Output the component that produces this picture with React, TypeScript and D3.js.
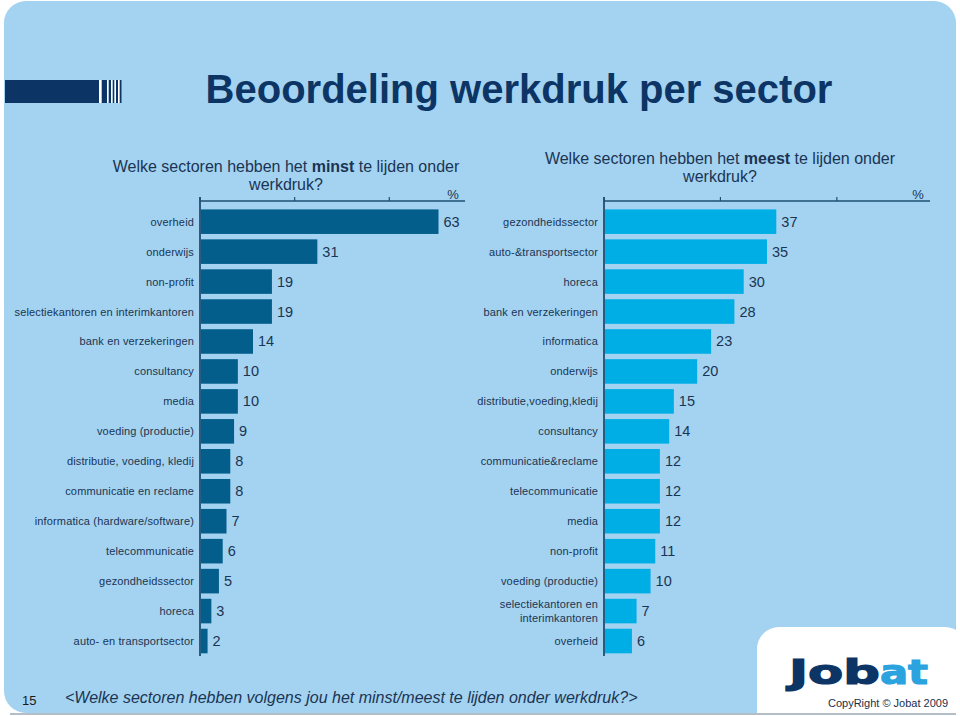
import React from "react";
import * as d3 from "d3";

const leftCategories = [
  "overheid",
  "onderwijs",
  "non-profit",
  "selectiekantoren en interimkantoren",
  "bank en verzekeringen",
  "consultancy",
  "media",
  "voeding (productie)",
  "distributie, voeding, kledij",
  "communicatie en reclame",
  "informatica (hardware/software)",
  "telecommunicatie",
  "gezondheidssector",
  "horeca",
  "auto- en transportsector",
];
const leftValues = [63, 31, 19, 19, 14, 10, 10, 9, 8, 8, 7, 6, 5, 3, 2];

const rightCategories = [
  "gezondheidssector",
  "auto-&transportsector",
  "horeca",
  "bank en verzekeringen",
  "informatica",
  "onderwijs",
  "distributie,voeding,kledij",
  "consultancy",
  "communicatie&reclame",
  "telecommunicatie",
  "media",
  "non-profit",
  "voeding (productie)",
  "selectiekantoren en|interimkantoren",
  "overheid",
];
const rightValues = [37, 35, 30, 28, 23, 20, 15, 14, 12, 12, 12, 11, 10, 7, 6];

const axisTicks = [0, 25, 50];

const FONT = "'Liberation Sans', Arial, sans-serif";
const BG = "#a3d3f0";
const TEXT = "#1b3454";
const AXIS = "#1d4f73";

type PanelProps = {
  categories: string[];
  values: number[];
  x0: number;
  x1: number;
  color: string;
};

function Panel({ categories, values, x0, x1, color }: PanelProps) {
  const x = d3.scaleLinear().domain([0, 70]).range([x0, x1]);
  const y = d3
    .scaleBand<number>()
    .domain(d3.range(categories.length))
    .range([206.7, 656])
    .paddingInner(0.18)
    .paddingOuter(0.09);
  const axisY = 201;
  return (
    <g>
      <line x1={x0} x2={x1} y1={axisY} y2={axisY} stroke={AXIS} strokeWidth={1.5} />
      <line x1={x0} x2={x0} y1={axisY - 4} y2={656} stroke={AXIS} strokeWidth={1.8} />
      {axisTicks.map((t) => (
        <line key={t} x1={x(t)} x2={x(t)} y1={axisY - 4} y2={axisY} stroke={AXIS} strokeWidth={1.2} />
      ))}
      <text x={x1 - 12} y={axisY - 2} fontSize={13} fill={TEXT} textAnchor="middle" fontFamily={FONT}>
        %
      </text>
      {values.map((v, i) => {
        const by = y(i)!;
        const bh = y.bandwidth();
        const cy = by + bh / 2;
        const lines = categories[i].split("|");
        return (
          <g key={i}>
            <rect x={x0 + 1} y={by} width={x(v) - x0 - 1} height={bh} fill={color} />
            <text x={x(v) + 5} y={cy + 5} fontSize={14.5} fill={TEXT} fontFamily={FONT}>
              {v}
            </text>
            {lines.map((ln, j) => (
              <text
                key={j}
                x={x0 - 6}
                y={cy + 4 + (j - (lines.length - 1) / 2) * 14}
                fontSize={11}
                letterSpacing={0.15}
                fill={TEXT}
                textAnchor="end"
                fontFamily={FONT}
              >
                {ln}
              </text>
            ))}
          </g>
        );
      })}
    </g>
  );
}

export default function App() {
  const stripes = [
    [5, 99],
    [101.5, 107],
    [108.5, 111],
    [112.5, 114.5],
    [116, 118],
    [119.5, 121.5],
  ];
  return (
    <div style={{ position: "fixed", left: 0, top: 0 }}>
      <svg width={960} height={716} style={{ display: "block" }}>
        <rect x={0} y={0} width={960} height={716} fill="#ffffff" />
        <rect x={4} y={1} width={952} height={712} rx={22} ry={22} fill={BG} />
        <rect x={757} y={627} width={210} height={120} rx={22} ry={22} fill="#ffffff" />
        <line x1={10} x2={956} y1={714} y2={714} stroke="#9aa9b5" strokeWidth={1.5} />
        {stripes.map(([a, b], i) => (
          <rect key={i} x={a} y={80} width={b - a} height={23} fill="#0c3566" />
        ))}
        {stripes.slice(0, -1).map(([, b], i) => (
          <rect key={"w" + i} x={b} y={80} width={stripes[i + 1][0] - b} height={23} fill="#ffffff" />
        ))}
        <text x={519} y={103} fontSize={40} fontWeight="bold" fill="#0c3566" textAnchor="middle" fontFamily={FONT}>
          Beoordeling werkdruk per sector
        </text>

        <text x={286} y={172} fontSize={16} fill={TEXT} textAnchor="middle" fontFamily={FONT}>
          Welke sectoren hebben het <tspan fontWeight="bold">minst</tspan> te lijden onder
        </text>
        <text x={286} y={190} fontSize={16} fill={TEXT} textAnchor="middle" fontFamily={FONT}>
          werkdruk?
        </text>
        <text x={720} y={164} fontSize={16} fill={TEXT} textAnchor="middle" fontFamily={FONT}>
          Welke sectoren hebben het <tspan fontWeight="bold">meest</tspan> te lijden onder
        </text>
        <text x={720} y={182} fontSize={16} fill={TEXT} textAnchor="middle" fontFamily={FONT}>
          werkdruk?
        </text>

        <Panel categories={leftCategories} values={leftValues} x0={200} x1={465} color="#035e8c" />
        <Panel categories={rightCategories} values={rightValues} x0={604} x1={930} color="#00aee6" />

        <text x={22} y={705} fontSize={13} fill="#1a1a1a" fontFamily={FONT}>
          15
        </text>
        <text x={65} y={703} fontSize={16} fontStyle="italic" fill={TEXT} fontFamily={FONT}>
          {"<Welke sectoren hebben volgens jou het minst/meest te lijden onder werkdruk?>"}
        </text>

        <text x={789} y={684} fontSize={34} fontWeight="bold" fill="#0c3566" fontFamily="'DejaVu Sans', sans-serif" textLength={91} lengthAdjust="spacingAndGlyphs" stroke="#0c3566" strokeWidth={1.2}>
          Job
        </text>
        <text x={880} y={684} fontSize={34} fontWeight="bold" fill="#2aa3df" fontFamily="'DejaVu Sans', sans-serif" textLength={48} lengthAdjust="spacingAndGlyphs" stroke="#2aa3df" strokeWidth={1.2}>
          at
        </text>
        <text x={828} y={707} fontSize={11} fill="#1b2f4a" fontFamily={FONT}>
          CopyRight © Jobat 2009
        </text>
      </svg>
    </div>
  );
}
